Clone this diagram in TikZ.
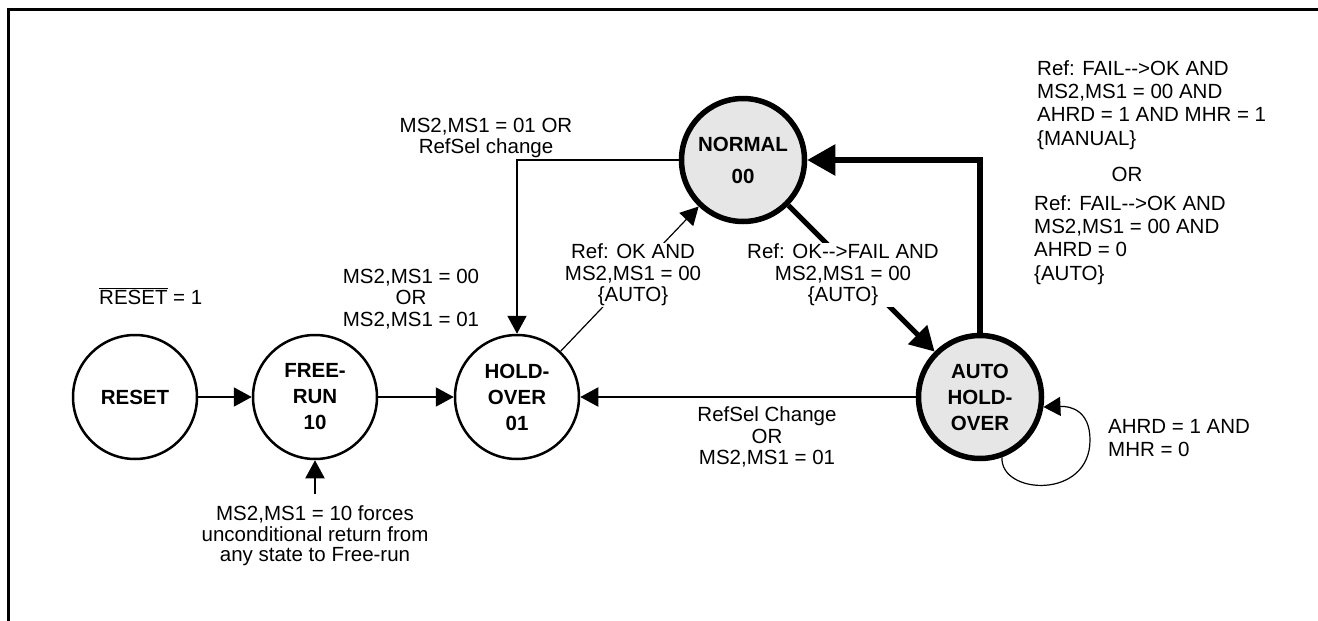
\documentclass[tikz,border=0pt]{standalone}
\usepackage{fontspec}
\setmainfont{Liberation Sans}
\usetikzlibrary{arrows.meta}
\definecolor{stategray}{RGB}{230,230,230}
\newcommand\arr{-\kern0pt-\kern0pt>}
\begin{document}
\begin{tikzpicture}[x=1pt,y=-1pt,
  every node/.style={font=\fontsize{20.5}{21.5}\selectfont, inner sep=0pt},
  state/.style={circle, draw, line width=2.5pt, minimum size=124pt, align=center,
    font=\fontsize{20.5}{26}\selectfont\bfseries},
  bigstate/.style={state, line width=5.5pt, minimum size=123pt, fill=stategray},
  thinarrow/.style={line width=2pt, -{Triangle[length=18pt,width=19pt]}},
  thinline/.style={line width=2pt},
  hairarrow/.style={line width=1.2pt, -{Triangle[length=18pt,width=19pt]}},
  thickarrow/.style={line width=5.5pt, -{Triangle[length=28pt,width=30pt]}},
  midarrow/.style={line width=5pt, -{Triangle[length=24pt,width=26pt]}},
  lbl/.style={align=center},
  cutlbl/.style={align=center, fill=white, inner sep=1pt},
  leftlbl/.style={align=left, anchor=west, font=\fontsize{20.5}{23.3}\selectfont}
]
\useasboundingbox (0,0) rectangle (1318,621);
\clip (0,0) rectangle (1318,621);
\draw[line width=3pt] (8,9) rectangle (1340,650);

% states
\node[state] (reset) at (135,397) {RESET};
\node[state] (free) at (315,397) {FREE-\\RUN\\10};
\node[state] (hold) at (517,397) {HOLD-\\OVER\\01};
\node[bigstate] (normal) at (743,160) {NORMAL\\[6pt]00};
\node[bigstate] (auto) at (980,397) {AUTO\\HOLD-\\OVER};
\coordinate (forcefoot) at (315,494);
\coordinate (loopright) at (1090,440);

% connectors
\draw[thinarrow] (reset) -- (free);
\draw[thinarrow] (free) -- (hold);
\draw[thinarrow] (forcefoot) -- (free);
\draw[thinarrow] (normal.west) -| (hold.north);
\draw[thinarrow] (auto) -- (hold);
\draw[thickarrow] (auto.north) |- (normal.east);
\draw[hairarrow] (hold) -- (normal);
\draw[midarrow] (normal) -- (auto);
\draw[line width=1.2pt, -{Triangle[length=17pt,width=19pt]}]
  (auto.-70) .. controls (1000,495) and (1090,500) .. (loopright)
  .. controls (1090,410) and (1070,406) .. (auto.-9);

% labels
\node[anchor=west] (resetlbl) at (99,296) {$\overline{\mbox{RESET}}$ = 1};
\node[lbl] (msfree) at (411,299) {MS2,MS1 = 00\\OR\\MS2,MS1 = 01};
\node[lbl] (msnorm) at (486,138) {MS2,MS1 = 01 OR\\RefSel change};
\node[cutlbl] (refok) at (633,275) {Ref: OK AND\\MS2,MS1 = 00\\\{AUTO\}};
\node[cutlbl] (reffail) at (843,275) {Ref: OK\arr FAIL AND\\MS2,MS1 = 00\\\{AUTO\}};
\node[lbl] (refsel) at (767,437) {RefSel Change\\OR\\MS2,MS1 = 01};
\node[lbl, font=\fontsize{20.5}{20.5}\selectfont] (forces) at (315,536)
  {MS2,MS1 = 10 forces\\unconditional return from\\any state to Free-run};
\node[leftlbl] (manual) at (1037,105)
  {Ref: FAIL\arr OK AND\\MS2,MS1 = 00 AND\\AHRD = 1 AND MHR = 1\\\{MANUAL\}};
\node (orlbl) at (1127,174) {OR};
\node[leftlbl] (autolbl) at (1034,240)
  {Ref: FAIL\arr OK AND\\MS2,MS1 = 00 AND\\AHRD = 0\\\{AUTO\}};
\node[leftlbl] (looplbl) at (1108,438) {AHRD = 1 AND\\MHR = 0};
\end{tikzpicture}
\end{document}
